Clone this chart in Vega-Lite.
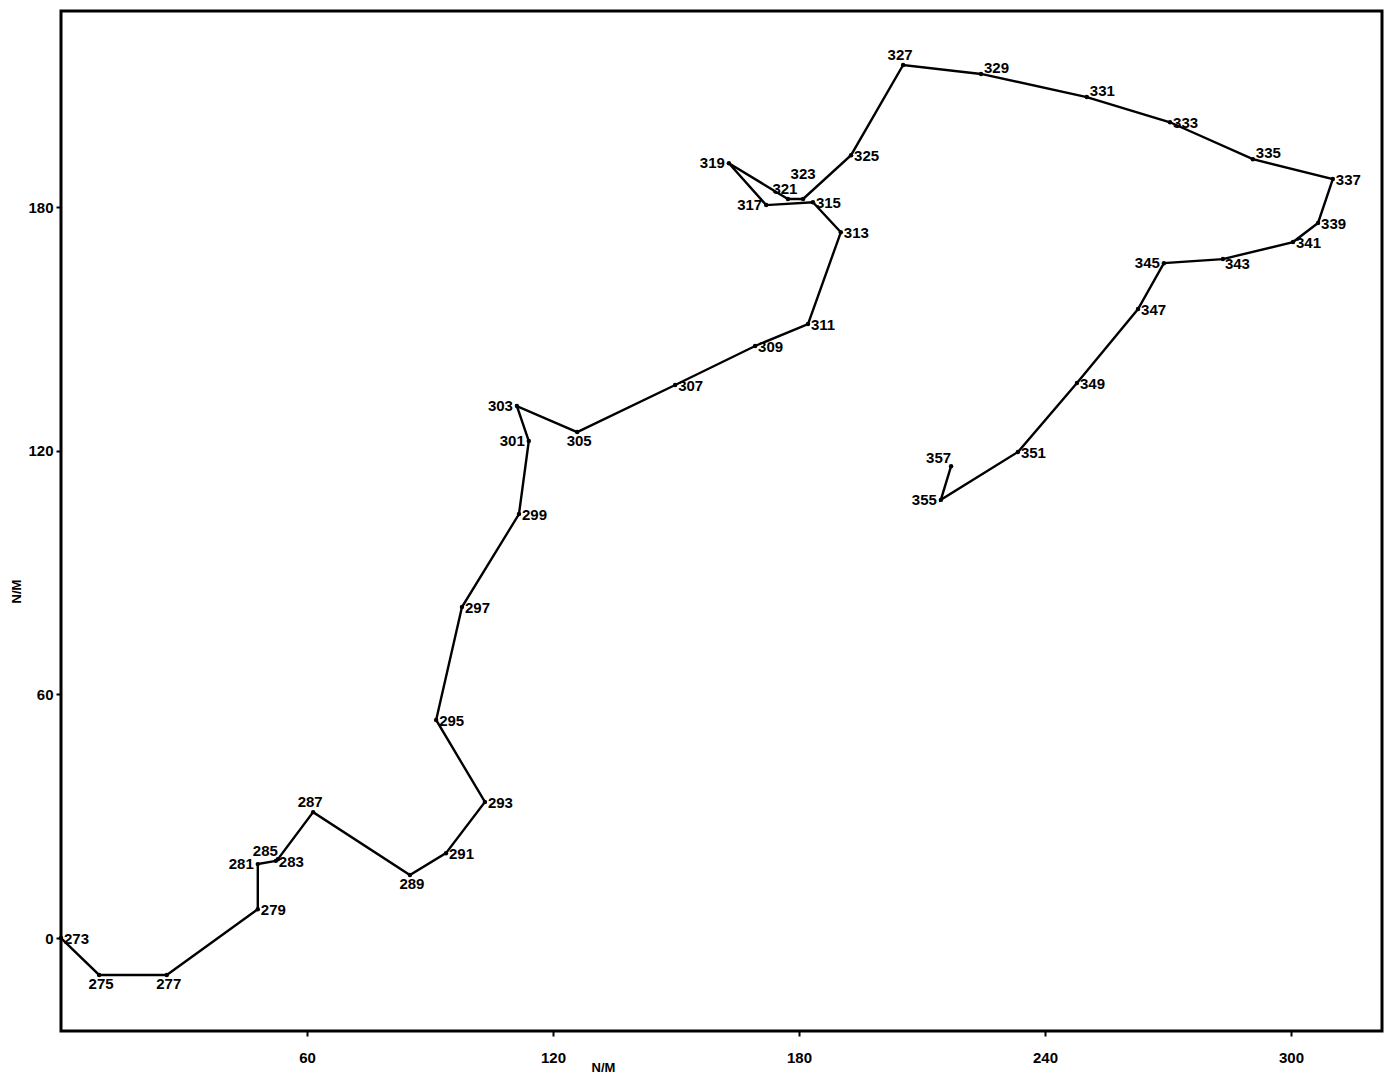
{
  "$schema": "https://vega.github.io/schema/vega-lite/v6.json",
  "width": 1321,
  "height": 1020,
  "autosize": "none",
  "padding": {"left": 61, "top": 11, "right": 9, "bottom": 49},
  "background": "white",
  "config": {
    "view": {"stroke": "black", "strokeWidth": 3},
    "font": "Liberation Sans",
    "axis": {"grid": false, "domain": false, "tickColor": "black", "tickWidth": 2, "tickSize": 5,
      "labelFont": "Liberation Sans", "labelFontWeight": "bold", "labelFontSize": 15, "labelColor": "black",
      "titleFont": "Liberation Sans", "titleFontWeight": "bold", "titleFontSize": 13, "titleColor": "black"}
  },
  "data": {"values": [
    {"n": 273, "x": 0.0, "y": 0.0},
    {"n": 275, "x": 9.3, "y": -9.1},
    {"n": 277, "x": 25.8, "y": -9.1},
    {"n": 279, "x": 48.0, "y": 7.1},
    {"n": 281, "x": 48.0, "y": 18.2},
    {"n": 283, "x": 52.4, "y": 19.0},
    {"n": 285, "x": 52.9, "y": 19.4},
    {"n": 287, "x": 61.5, "y": 31.0},
    {"n": 289, "x": 85.1, "y": 15.5},
    {"n": 291, "x": 93.9, "y": 20.9},
    {"n": 293, "x": 103.4, "y": 33.5},
    {"n": 295, "x": 91.5, "y": 53.7},
    {"n": 297, "x": 97.8, "y": 81.5},
    {"n": 299, "x": 111.7, "y": 104.4},
    {"n": 301, "x": 114.1, "y": 122.4},
    {"n": 303, "x": 111.2, "y": 131.0},
    {"n": 305, "x": 125.9, "y": 124.6},
    {"n": 307, "x": 149.8, "y": 136.2},
    {"n": 309, "x": 169.3, "y": 145.8},
    {"n": 311, "x": 182.2, "y": 151.2},
    {"n": 313, "x": 190.2, "y": 173.8},
    {"n": 315, "x": 183.4, "y": 181.2},
    {"n": 317, "x": 172.0, "y": 180.5},
    {"n": 319, "x": 162.9, "y": 190.8},
    {"n": 321, "x": 177.3, "y": 182.0},
    {"n": 323, "x": 181.0, "y": 182.0},
    {"n": 325, "x": 192.7, "y": 192.8},
    {"n": 327, "x": 205.4, "y": 215.0},
    {"n": 329, "x": 224.4, "y": 212.8},
    {"n": 331, "x": 250.2, "y": 207.1},
    {"n": 333, "x": 270.5, "y": 200.9},
    {"n": 335, "x": 290.7, "y": 191.8},
    {"n": 337, "x": 310.2, "y": 186.9},
    {"n": 339, "x": 306.6, "y": 176.1},
    {"n": 341, "x": 300.5, "y": 171.4},
    {"n": 343, "x": 283.4, "y": 167.2},
    {"n": 345, "x": 269.0, "y": 166.2},
    {"n": 347, "x": 262.7, "y": 154.9},
    {"n": 349, "x": 247.8, "y": 136.7},
    {"n": 351, "x": 233.4, "y": 119.7},
    {"n": 355, "x": 214.6, "y": 107.9},
    {"n": 357, "x": 217.1, "y": 116.2}
  ]},
  "encoding": {
    "x": {"field": "x", "type": "quantitative", "scale": {"domain": [0, 322.2], "nice": false, "zero": false},
      "axis": {"values": [60, 120, 180, 240, 300], "title": "N/M", "titleX": 542, "titleY": 30, "labelPadding": 14, "labelFlush": false}},
    "y": {"field": "y", "type": "quantitative", "scale": {"domain": [-22.9, 228.3], "nice": false, "zero": false},
      "axis": {"values": [0, 60, 120, 180], "title": "N/M", "titleX": -38, "titleY": 580, "labelPadding": 3, "labelFlush": false}}
  },
  "layer": [
    {"mark": {"type": "line", "color": "black", "strokeWidth": 2.4}, "encoding": {"order": {"field": "n", "type": "quantitative"}}},
    {"mark": {"type": "point", "filled": true, "color": "black", "size": 20, "opacity": 1}},
    {"transform": [{"filter": {"field": "n", "oneOf": [273, 279, 283, 291, 293, 295, 297, 299, 307, 309, 311, 313, 315, 325, 333, 337, 339, 341, 347, 349, 351]}}],
      "mark": {"type": "text", "align": "left", "baseline": "middle", "dx": 3, "dy": 1, "fontSize": 15, "fontWeight": "bold", "color": "black", "letterSpacing": -1},
      "encoding": {"text": {"field": "n", "type": "nominal"}}},
    {"transform": [{"filter": {"field": "n", "oneOf": [281, 301, 303, 317, 319, 345, 355]}}],
      "mark": {"type": "text", "align": "right", "baseline": "middle", "dx": -4, "dy": 0, "fontSize": 15, "fontWeight": "bold", "color": "black", "letterSpacing": -1},
      "encoding": {"text": {"field": "n", "type": "nominal"}}},
    {"transform": [{"filter": {"field": "n", "oneOf": [275, 277, 289, 305]}}],
      "mark": {"type": "text", "align": "center", "baseline": "top", "dx": 2, "dy": 2, "fontSize": 15, "fontWeight": "bold", "color": "black", "letterSpacing": -1},
      "encoding": {"text": {"field": "n", "type": "nominal"}}},
    {"transform": [{"filter": {"field": "n", "oneOf": [343]}}],
      "mark": {"type": "text", "align": "left", "baseline": "top", "dx": 2, "dy": -2, "fontSize": 15, "fontWeight": "bold", "color": "black", "letterSpacing": -1},
      "encoding": {"text": {"field": "n", "type": "nominal"}}},
    {"transform": [{"filter": {"field": "n", "oneOf": [287, 321, 327]}}],
      "mark": {"type": "text", "align": "center", "baseline": "bottom", "dx": -3, "dy": -2, "fontSize": 15, "fontWeight": "bold", "color": "black", "letterSpacing": -1},
      "encoding": {"text": {"field": "n", "type": "nominal"}}},
    {"transform": [{"filter": {"field": "n", "oneOf": [323]}}],
      "mark": {"type": "text", "align": "center", "baseline": "bottom", "dx": 0, "dy": -17, "fontSize": 15, "fontWeight": "bold", "color": "black", "letterSpacing": -1},
      "encoding": {"text": {"field": "n", "type": "nominal"}}},
    {"transform": [{"filter": {"field": "n", "oneOf": [329, 331, 335]}}],
      "mark": {"type": "text", "align": "left", "baseline": "bottom", "dx": 3, "dy": 2, "fontSize": 15, "fontWeight": "bold", "color": "black", "letterSpacing": -1},
      "encoding": {"text": {"field": "n", "type": "nominal"}}},
    {"transform": [{"filter": {"field": "n", "oneOf": [285, 357]}}],
      "mark": {"type": "text", "align": "right", "baseline": "bottom", "dx": 0, "dy": 0, "fontSize": 15, "fontWeight": "bold", "color": "black", "letterSpacing": -1},
      "encoding": {"text": {"field": "n", "type": "nominal"}}}
  ]
}
